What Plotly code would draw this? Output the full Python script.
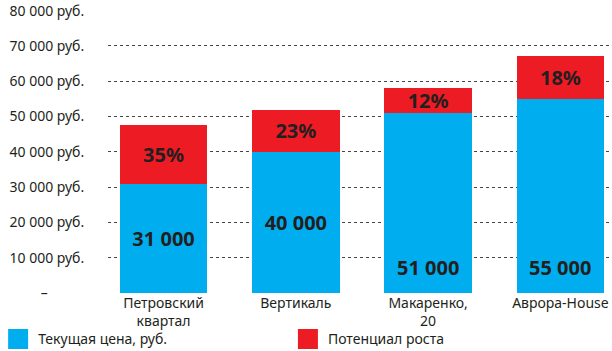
import plotly.graph_objects as go

categories = ["Петровский<br>квартал", "Вертикаль", "Макаренко,<br>20", "Аврора-House"]
current_price = [31000, 40000, 51000, 55000]
growth_part = [16700, 11900, 7000, 12100]
growth_labels = ["35%", "23%", "12%", "18%"]
price_labels = ["31 000", "40 000", "51 000", "55 000"]
tick_vals = [0, 10000, 20000, 30000, 40000, 50000, 60000, 70000, 80000]
tick_text = ["–" + "\u00a0" * 10, "10 000 руб.", "20 000 руб.", "30 000 руб.", "40 000 руб.",
             "50 000 руб.", "60 000 руб.", "70 000 руб.", "80 000 руб."]
legend_names = ["Текущая цена, руб.", "Потенциал роста"]

BLUE = "#00AEEF"
RED = "#ED1C24"
TXT = "#231F20"
FONT = "Noto Sans"

centered = [True, True, False, False]

fig = go.Figure()
fig.add_trace(go.Bar(
    x=categories, y=current_price, marker_color=BLUE, marker_line_width=0,
    text=[t if c else "" for t, c in zip(price_labels, centered)],
    textposition="inside", insidetextanchor="middle", constraintext="none",
    textfont=dict(family=FONT, size=20, color=TXT, weight="bold"),
    showlegend=False, hoverinfo="skip",
))
fig.add_trace(go.Bar(
    x=categories, y=growth_part, marker_color=RED, marker_line_width=0,
    text=growth_labels, textposition="inside", insidetextanchor="middle",
    constraintext="none",
    textfont=dict(family=FONT, size=20, color=TXT, weight="bold"),
    showlegend=False, hoverinfo="skip",
))
for name, col, lg in zip(legend_names, [BLUE, RED], ["legend", "legend2"]):
    fig.add_trace(go.Scatter(
        x=[None], y=[None], mode="markers", name=name, legend=lg,
        marker=dict(symbol="square", size=16, color=col, line=dict(color=col, width=4)),
    ))

for cat, lab, c in zip(categories, price_labels, centered):
    if not c:
        fig.add_annotation(x=cat, y=0, text=lab, showarrow=False, yanchor="bottom",
                           yshift=10, font=dict(family=FONT, size=20, color=TXT, weight="bold"))

leg_common = dict(orientation="h", xanchor="left", yanchor="top", y=-0.107,
                  font=dict(family=FONT, size=14, color=TXT), itemsizing="trace",
                  bgcolor="rgba(0,0,0,0)")
fig.update_layout(
    width=612, height=351,
    margin=dict(l=108, r=0, t=10, b=58, autoexpand=False),
    barmode="stack", bargap=0.34,
    plot_bgcolor="white", paper_bgcolor="white",
    font=dict(family=FONT, size=14, color=TXT),
    legend=dict(x=-0.218, **leg_common),
    legend2=dict(x=0.357, **leg_common),
)
fig.update_xaxes(range=[-0.42, 3.39], showgrid=False, showline=False, ticks="",
                 tickfont=dict(size=14), fixedrange=True)
fig.update_yaxes(range=[0, 80200], tickvals=tick_vals, ticktext=tick_text,
                 showgrid=True, gridcolor="#444", griddash="dot", gridwidth=1,
                 zeroline=False, showline=False, ticks="outside", ticklen=20,
                 tickcolor="rgba(0,0,0,0)", tickfont=dict(size=14))

fig.write_html("out.html")
